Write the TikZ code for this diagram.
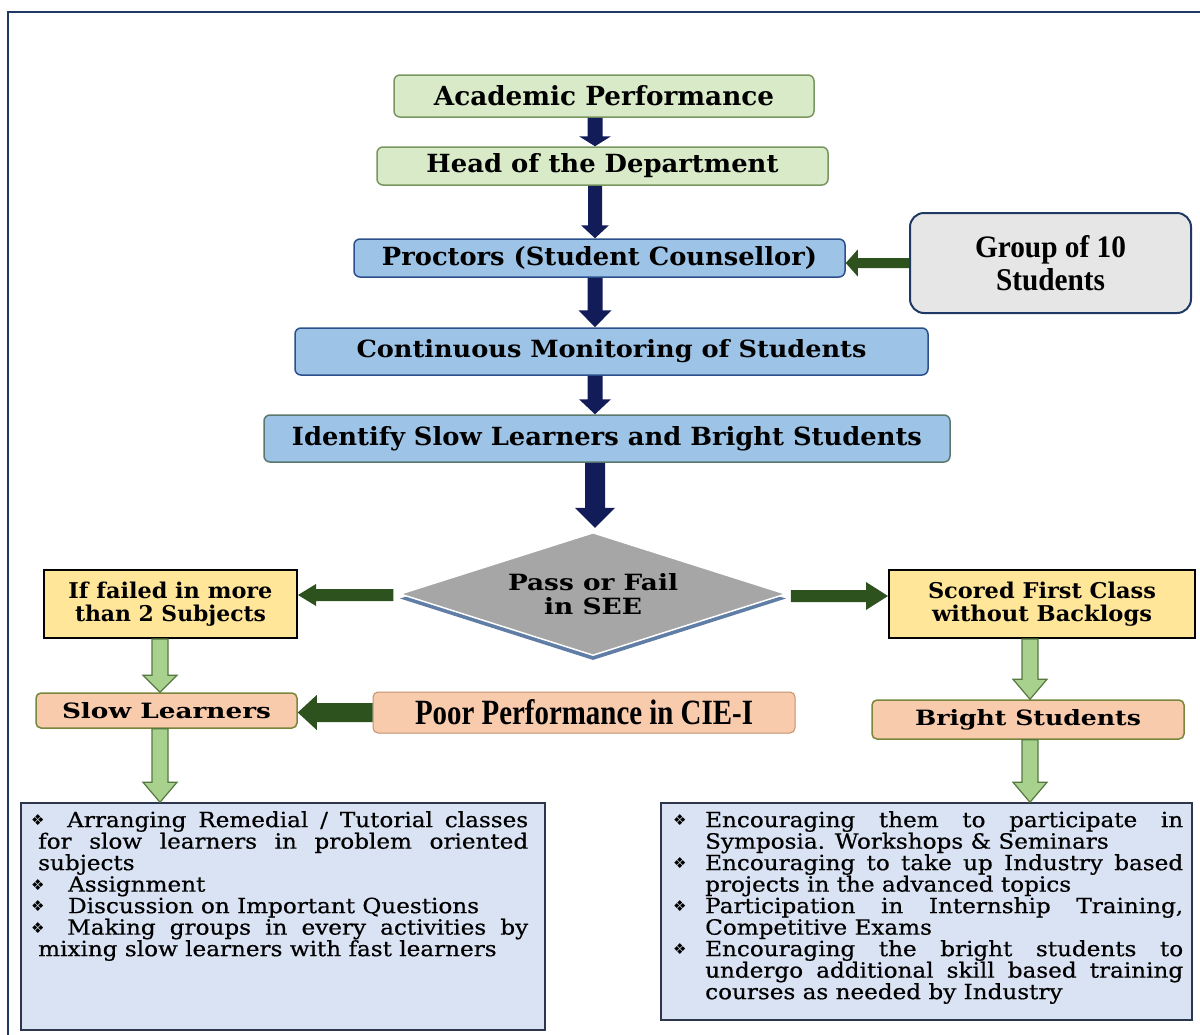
\documentclass[tikz,border=0pt]{standalone}
\usepackage{fontspec}
\usepackage{graphicx}
\usetikzlibrary{shapes.geometric,calc}
\newfontfamily\ttlfont{DejaVu Serif}
\newfontfamily\timesb{Liberation Serif}
\newfontfamily\listfont{DejaVu Serif}[FakeStretch=1.10,FakeBold=0.6]
\newfontfamily\symfont{DejaVu Sans}
\definecolor{gfill}{RGB}{216,234,200}
\definecolor{gdraw}{RGB}{120,150,95}
\definecolor{bfill}{RGB}{157,195,230}
\definecolor{bdraw}{RGB}{45,80,140}
\definecolor{iddraw}{RGB}{90,120,110}
\definecolor{yfill}{RGB}{255,230,153}
\definecolor{pfill}{RGB}{248,203,173}
\definecolor{pdraw}{RGB}{120,135,60}
\definecolor{poordraw}{RGB}{195,145,110}
\definecolor{grayfill}{RGB}{230,230,230}
\definecolor{navyA}{RGB}{18,28,88}
\definecolor{frame}{RGB}{31,56,100}
\definecolor{dgreen}{RGB}{45,82,30}
\definecolor{lgfill}{RGB}{169,209,142}
\definecolor{lgdraw}{RGB}{85,120,65}
\definecolor{lfill}{RGB}{218,227,243}
\definecolor{ldraw}{RGB}{45,55,75}
\definecolor{dgray}{RGB}{166,166,166}
\definecolor{dshadow}{RGB}{95,125,165}
\newcommand{\fit}[3]{\resizebox{#1pt}{#2pt}{#3}}
\newcommand{\bul}{{\symfont\fontsize{15}{15}\selectfont\raisebox{1.5pt}{❖}}}
% vertical block arrow pointing down: style, from, to, shaft half, head half, head length
\newcommand{\varr}[6]{\path[#1] let \p1=#2, \p2=#3 in
  (\x2-#4pt,\y1) -- (\x2-#4pt,\y2+#6pt) -- (\x2-#5pt,\y2+#6pt) -- (\x2,\y2) --
  (\x2+#5pt,\y2+#6pt) -- (\x2+#4pt,\y2+#6pt) -- (\x2+#4pt,\y1) -- cycle;}
% horizontal block arrow pointing left
\newcommand{\larr}[6]{\path[#1] let \p1=#2, \p2=#3 in
  (\x1,\y1+#4pt) -- (\x2+#6pt,\y1+#4pt) -- (\x2+#6pt,\y1+#5pt) -- (\x2,\y1) --
  (\x2+#6pt,\y1-#5pt) -- (\x2+#6pt,\y1-#4pt) -- (\x1,\y1-#4pt) -- cycle;}
% horizontal block arrow pointing right
\newcommand{\rarr}[6]{\path[#1] let \p1=#2, \p2=#3 in
  (\x1,\y1+#4pt) -- (\x2-#6pt,\y1+#4pt) -- (\x2-#6pt,\y1+#5pt) -- (\x2,\y1) --
  (\x2-#6pt,\y1-#5pt) -- (\x2-#6pt,\y1-#4pt) -- (\x1,\y1-#4pt) -- cycle;}
\begin{document}
\begin{tikzpicture}[x=1pt,y=-1pt,
  tbox/.style={draw, line width=1.5pt, inner sep=0pt, align=center,
    font=\ttlfont\bfseries\fontsize{16}{23}\selectfont},
  greenbox/.style={tbox, fill=gfill, draw=gdraw, rounded corners=6pt},
  bluebox/.style={tbox, fill=bfill, draw=bdraw, rounded corners=6pt},
  yellowbox/.style={tbox, fill=yfill, draw=black, line width=2pt},
  peachbox/.style={tbox, fill=pfill, draw=pdraw, rounded corners=5pt},
  graybox/.style={tbox, fill=grayfill, draw=frame, line width=2pt, rounded corners=14pt,
    font=\timesb\bfseries\fontsize{29}{33}\selectfont},
  listbox/.style={draw=ldraw, fill=lfill, line width=1.5pt, inner sep=0pt},
  listtext/.style={anchor=north west, inner sep=0pt, align=left,
    font=\listfont\fontsize{21}{21.5}\selectfont},
  navyarrow/.style={fill=navyA},
  darkarrow/.style={fill=dgreen},
  lightarrow/.style={fill=lgfill, draw=lgdraw, line width=1.2pt},
]
\useasboundingbox (0,0) rectangle (1200,1034);
\fill[white] (0,0) rectangle (1200,1034);
\draw[frame, line width=2.5pt] (8,12) rectangle (1215,1050);

\coordinate (axm) at (595,0);
\coordinate (axl) at (160,0);
\coordinate (axr) at (1030,0);

% top chain
\node[greenbox, minimum width=420pt, minimum height=42pt] (ap) at (604,96)
  {\fit{340}{20}{Academic Performance}};
\node[greenbox, minimum width=451pt, minimum height=38pt] (hod) at (602.5,166)
  {\fit{352}{19}{Head of the Department}};
\node[bluebox, minimum width=491pt, minimum height=38pt] (pr) at (599.5,258)
  {\fit{435}{19}{Proctors (Student Counsellor)}};
\node[graybox, minimum width=281pt, minimum height=100pt] (gr) at (1050.5,263)
  {\fit{151}{22}{Group of 10}\\\fit{109}{22}{Students}};
\node[bluebox, minimum width=633pt, minimum height=47pt] (cm) at (611.5,351.5)
  {\fit{510}{18}{Continuous Monitoring of Students}};
\node[bluebox, draw=iddraw, minimum width=686pt, minimum height=47pt] (id) at (607,438.5)
  {\fit{630}{19}{Identify Slow Learners and Bright Students}};

% decision
\node[diamond, aspect=3.14, minimum width=386pt, minimum height=123pt, inner sep=0pt,
  fill=dshadow] (dms) at (593,598.5) {};
\node[diamond, aspect=3.14, minimum width=386pt, minimum height=123pt, inner sep=0pt,
  fill=dgray, draw=white, line width=1.5pt, align=center,
  font=\ttlfont\bfseries\fontsize{16}{24}\selectfont] (dm) at (593,594)
  {\fit{170}{17}{Pass or Fail}\\\fit{98}{17}{in SEE}};

% branches
\node[yellowbox, minimum width=253pt, minimum height=68pt] (ifb) at (170.5,604)
  {\fit{204}{16.5}{If failed in more}\\\fit{191}{16.5}{than 2 Subjects}};
\node[yellowbox, minimum width=306pt, minimum height=68pt] (sc) at (1042,604)
  {\fit{228}{16.5}{Scored First Class}\\\fit{220}{16.5}{without Backlogs}};
\node[peachbox, minimum width=261pt, minimum height=35pt] (sl) at (166.5,710.5)
  {\fit{209}{16}{Slow Learners}};
\node[peachbox, draw=poordraw, line width=1pt, minimum width=422pt, minimum height=41pt] (poor) at (584,712.5)
  {\fit{338}{25}{\timesb\bfseries Poor Performance in CIE-I}};
\node[peachbox, minimum width=312pt, minimum height=39pt] (bs) at (1028,719.5)
  {\fit{226}{16}{Bright Students}};

% list boxes
\node[listbox, minimum width=524pt, minimum height=227pt] (lb) at (283,916.5) {};
\node[listbox, minimum width=531pt, minimum height=217pt] (rb) at (926.5,911.5) {};

\node[listtext] (lt) at (31,811) {%
\makebox[36pt][l]{\bul}\makebox[461pt][s]{Arranging Remedial / Tutorial classes}\\
\makebox[7pt]{}\makebox[490pt][s]{for slow learners in problem oriented}\\
\makebox[7pt]{}subjects\\
\makebox[37pt][l]{\bul}Assignment\\
\makebox[37pt][l]{\bul}Discussion on Important Questions\\
\makebox[36pt][l]{\bul}\makebox[461pt][s]{Making groups in every activities by}\\
\makebox[7pt]{}mixing slow learners with fast learners};

\node[listtext] (rt) at (673,811) {%
\makebox[32pt][l]{\bul}\makebox[478pt][s]{Encouraging them to participate in}\\
\makebox[32pt]{}Symposia. Workshops \& Seminars\\
\makebox[32pt][l]{\bul}\makebox[478pt][s]{Encouraging to take up Industry based}\\
\makebox[32pt]{}projects in the advanced topics\\
\makebox[32pt][l]{\bul}\makebox[478pt][s]{Participation in Internship Training,}\\
\makebox[32pt]{}Competitive Exams\\
\makebox[32pt][l]{\bul}\makebox[478pt][s]{Encouraging the bright students to}\\
\makebox[32pt]{}\makebox[478pt][s]{undergo additional skill based training}\\
\makebox[32pt]{}courses as needed by Industry};

% navy arrows
\varr{navyarrow}{(ap.south -| axm)}{(hod.north -| axm)}{7.5}{16}{10}
\varr{navyarrow}{(hod.south -| axm)}{(pr.north -| axm)}{7}{14}{13}
\varr{navyarrow}{(pr.south -| axm)}{(cm.north -| axm)}{7.5}{16.5}{17}
\varr{navyarrow}{(cm.south -| axm)}{(id.north -| axm)}{7.5}{16}{15}
\varr{navyarrow}{(id.south -| axm)}{($(dm.north -| axm)+(0,-4)$)}{10}{20}{20}

% dark green arrows
\larr{darkarrow}{(gr.west)}{(pr.east)}{5}{13.5}{12}
\larr{darkarrow}{($(dm.west)+(-6,1)$)}{(ifb.east)}{6}{11}{18}
\rarr{darkarrow}{($(dm.east)+(4,2)$)}{(sc.west)}{6}{14}{22}
\larr{darkarrow}{(poor.west)}{(sl.east)}{9.5}{17.5}{19}

% light green arrows
\varr{lightarrow}{(ifb.south -| axl)}{(sl.north -| axl)}{8}{17}{17}
\varr{lightarrow}{(sl.south -| axl)}{(lb.north -| axl)}{8}{17}{20}
\varr{lightarrow}{(sc.south -| axr)}{(bs.north -| axr)}{8}{17}{20}
\varr{lightarrow}{(bs.south -| axr)}{(rb.north -| axr)}{8}{17}{20}
\end{tikzpicture}
\end{document}
